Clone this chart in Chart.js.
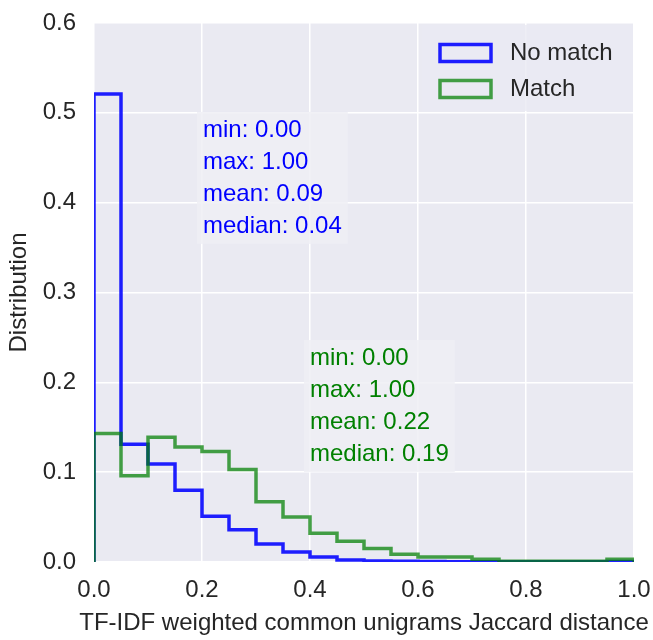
<!DOCTYPE html>
<html>
<head>
<meta charset="utf-8">
<title>TF-IDF Jaccard distance</title>
<script src="https://cdn.jsdelivr.net/npm/chart.js@4.4.1/dist/chart.umd.min.js"></script>
<style>
  html, body { margin: 0; padding: 0; background: #ffffff; }
</style>
</head>
<body>
<canvas id="hist" width="653" height="640"></canvas>
<script>
"use strict";

// Bin edges, 20 bins between 0 and 1
const binEdges = [0.00, 0.05, 0.10, 0.15, 0.20, 0.25, 0.30, 0.35, 0.40, 0.45, 0.50,
                  0.55, 0.60, 0.65, 0.70, 0.75, 0.80, 0.85, 0.90, 0.95, 1.00];

// Share of pairs in each bin
const noMatch = [0.521, 0.131, 0.109, 0.080, 0.051, 0.036, 0.020, 0.011, 0.0055, 0.0022,
                 0.0010, 0.0007, 0.0005, 0.0004, 0.0003, 0.0003, 0.0003, 0.0003, 0.0003, 0.0006];
const match = [0.143, 0.096, 0.139, 0.128, 0.123, 0.103, 0.067, 0.050, 0.032, 0.023,
               0.015, 0.0085, 0.0055, 0.0055, 0.003, 0.0008, 0.0008, 0.0008, 0.0008, 0.003];

const seriesLabels = ['No match', 'Match'];

// Summary statistics printed next to the curves
const statNames = ['min', 'max', 'mean', 'median'];
const noMatchStats = [0.00, 1.00, 0.09, 0.04];
const matchStats = [0.00, 1.00, 0.22, 0.19];

// Axis ticks and titles
const xTicks = [0.0, 0.2, 0.4, 0.6, 0.8, 1.0];
const yTicks = [0.0, 0.1, 0.2, 0.3, 0.4, 0.5, 0.6];
const xTitle = 'TF-IDF weighted common unigrams Jaccard distance';
const yTitle = 'Distribution';

const FONT = '"Liberation Sans", Arial, sans-serif';
const TEXT = '#262626';
const BLUE = 'rgba(0, 0, 255, 0.88)';
const GREEN = 'rgba(0, 128, 0, 0.72)';

// Turns bin values into the outline of a step histogram
function stepOutline(values) {
    const pts = [{ x: binEdges[0], y: 0 }];
    values.forEach((v, i) => {
        pts.push({ x: binEdges[i], y: v });
        pts.push({ x: binEdges[i + 1], y: v });
    });
    pts.push({ x: binEdges[binEdges.length - 1], y: 0 });
    return pts;
}

function statLines(stats) {
    return statNames.map((name, i) => name + ': ' + stats[i].toFixed(2));
}

// Grey plotting area behind grid and lines
const backdrop = {
    id: 'backdrop',
    beforeDraw(chart) {
        const { ctx, chartArea: a } = chart;
        ctx.save();
        ctx.fillStyle = '#eaeaf2';
        ctx.fillRect(a.left, a.top, a.width, a.height);
        ctx.restore();
    }
};

// Text block with a faint box behind it
function drawStats(ctx, lines, left, firstY, color) {
    const step = 32;
    const w = Math.max(...lines.map(l => ctx.measureText(l).width));
    ctx.fillStyle = 'rgba(238, 238, 245, 0.85)';
    ctx.fillRect(left - 6, firstY - 18, w + 12, step * (lines.length - 1) + 36);
    ctx.fillStyle = color;
    lines.forEach((l, i) => ctx.fillText(l, left, firstY + i * step));
}

// Statistics, legend and the x title (wider than the axes, so the
// built-in title would squeeze it)
const notes = {
    id: 'notes',
    afterDatasetsDraw(chart) {
        const { ctx, chartArea: a, scales: { x, y } } = chart;
        ctx.save();
        ctx.font = '24px ' + FONT;
        ctx.textBaseline = 'middle';
        ctx.textAlign = 'left';

        drawStats(ctx, statLines(noMatchStats), x.getPixelForValue(0.2) + 1, y.getPixelForValue(0.481), '#0000ff');
        drawStats(ctx, statLines(matchStats), x.getPixelForValue(0.4), y.getPixelForValue(0.227), '#008000');

        // Legend frame in the upper right corner
        const fx = a.right - 212;
        const fy = a.top + 2;
        ctx.fillStyle = 'rgba(234, 234, 242, 0.8)';
        ctx.fillRect(fx, fy, 211, 86);
        chart.data.datasets
            .slice()
            .sort((p, q) => seriesLabels.indexOf(p.label) - seriesLabels.indexOf(q.label))
            .forEach((ds, i) => {
                const top = fy + 18 + i * 36;
                ctx.strokeStyle = ds.borderColor;
                ctx.lineWidth = 3.5;
                ctx.strokeRect(fx + 18, top + 1.5, 51, 17);
                ctx.fillStyle = TEXT;
                ctx.fillText(ds.label, fx + 88, top + 10);
            });

        ctx.fillStyle = TEXT;
        ctx.textAlign = 'center';
        ctx.fillText(xTitle, (a.left + a.right) / 2, x.bottom - 17);
        ctx.restore();
    }
};

new Chart(document.getElementById('hist'), {
    type: 'line',
    data: {
        datasets: [
            {
                label: seriesLabels[1],
                data: stepOutline(match),
                borderColor: GREEN,
                borderWidth: 3.5,
                order: 0
            },
            {
                label: seriesLabels[0],
                data: stepOutline(noMatch),
                borderColor: BLUE,
                borderWidth: 3.5,
                order: 1
            }
        ]
    },
    options: {
        responsive: false,
        animation: false,
        devicePixelRatio: 1,
        elements: {
            point: { radius: 0 },
            line: { tension: 0, fill: false, borderJoinStyle: 'miter', borderCapStyle: 'butt' }
        },
        layout: {
            padding: { top: 23, right: 19, left: 0, bottom: 0 }
        },
        plugins: {
            legend: { display: false },
            tooltip: { enabled: false }
        },
        scales: {
            x: {
                type: 'linear',
                min: 0,
                max: 1,
                afterBuildTicks: s => { s.ticks = xTicks.map(v => ({ value: v })); },
                afterFit: s => {
                    s.height = 78;
                    s.paddingLeft = 0;
                    s.paddingRight = 0;
                },
                grid: { color: '#ffffff', lineWidth: 1.5, drawTicks: false },
                border: { display: false },
                ticks: {
                    padding: 14,
                    color: TEXT,
                    font: { family: FONT, size: 24 },
                    callback: v => v.toFixed(1)
                }
            },
            y: {
                type: 'linear',
                min: 0,
                max: 0.6,
                afterBuildTicks: s => { s.ticks = yTicks.map(v => ({ value: v })); },
                afterFit: s => {
                    s.width = 94;
                    s.paddingTop = 0;
                    s.paddingBottom = 0;
                },
                grid: { color: '#ffffff', lineWidth: 1.5, drawTicks: false },
                border: { display: false },
                ticks: {
                    padding: 18,
                    color: TEXT,
                    font: { family: FONT, size: 24 },
                    callback: v => v.toFixed(1)
                },
                title: {
                    display: true,
                    text: yTitle,
                    color: TEXT,
                    font: { family: FONT, size: 24 },
                    padding: { top: 5, bottom: 0 }
                }
            }
        }
    },
    plugins: [backdrop, notes]
});
</script>
</body>
</html>
